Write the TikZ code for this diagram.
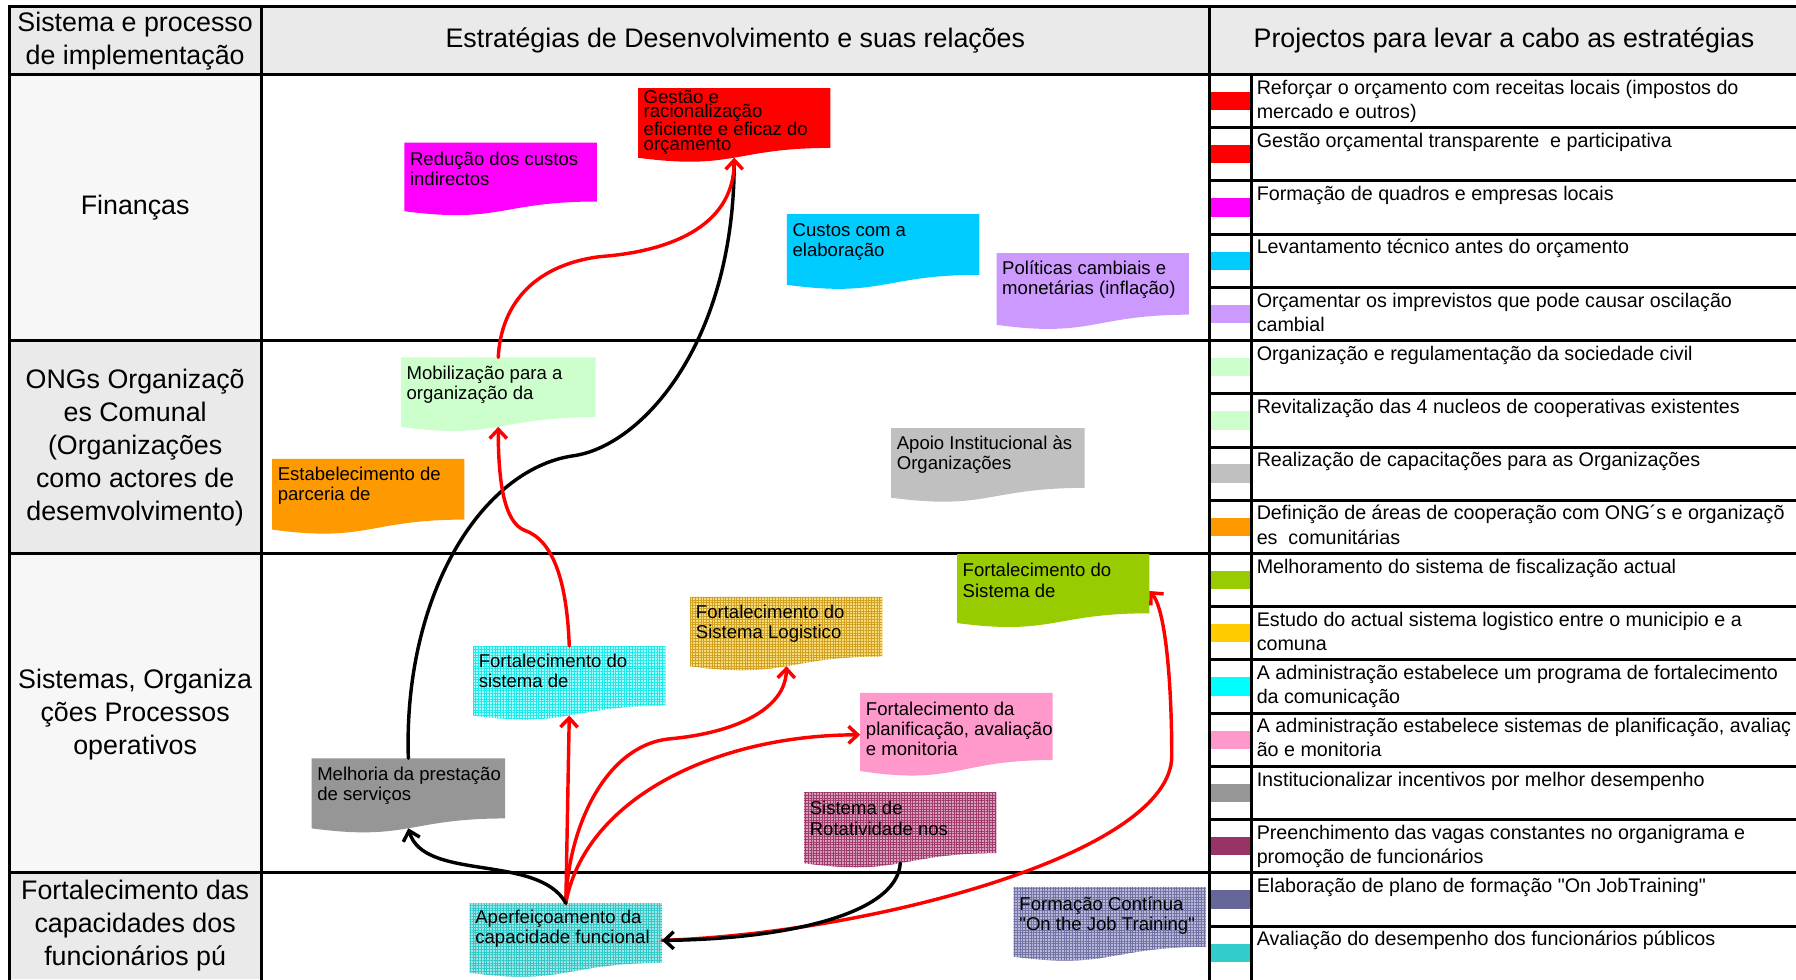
\documentclass[tikz,border=0pt]{standalone}
\usepackage{fontspec}
\setmainfont{Liberation Sans}[Ligatures=TeXOff]
\usetikzlibrary{calc,arrows.meta,patterns.meta}

\definecolor{hdrgray}{HTML}{EAEAEA}
\definecolor{lanelight}{HTML}{F7F7F7}
\definecolor{cGes}{HTML}{FF0000}
\definecolor{cRdc}{HTML}{FF00FF}
\definecolor{cCus}{HTML}{00CCFF}
\definecolor{cPol}{HTML}{CC99FF}
\definecolor{cMob}{HTML}{CCFFCC}
\definecolor{cEst}{HTML}{FF9900}
\definecolor{cApo}{HTML}{C0C0C0}
\definecolor{cFsd}{HTML}{99CC00}
\definecolor{cPla}{HTML}{FF99CC}
\definecolor{cMel}{HTML}{969696}
\definecolor{cLogA}{HTML}{F8DC80}
\definecolor{cLogB}{HTML}{D0A020}
\definecolor{cSisA}{HTML}{A8FFFF}
\definecolor{cSisB}{HTML}{20E8E8}
\definecolor{cRotA}{HTML}{D8A0BC}
\definecolor{cRotB}{HTML}{A03C6C}
\definecolor{cApeA}{HTML}{9EE6E6}
\definecolor{cApeB}{HTML}{33C8C8}
\definecolor{cFrmA}{HTML}{B8B8D8}
\definecolor{cFrmB}{HTML}{7272A4}
\definecolor{cGold}{HTML}{FFCC00}
\definecolor{cCyan}{HTML}{00FFFF}
\definecolor{cPlum}{HTML}{993366}
\definecolor{cSlate}{HTML}{666699}
\definecolor{cTeal}{HTML}{33CCCC}

% document-shaped outline (flat top, wavy bottom) filling the node box
\newcommand\wavedoc[1]{%
  \fill[#1] (path picture bounding box.north west) -- (path picture bounding box.north east)
    -- ($(path picture bounding box.north east)!0.802!(path picture bounding box.south east)$)
    .. controls ($(path picture bounding box.north)!0.802!(path picture bounding box.south)$)
       and ($(path picture bounding box.north)!1.1075!(path picture bounding box.south)$)
    .. ($(path picture bounding box.north west)!0.934!(path picture bounding box.south west)$)
    -- cycle;}

\newcommand\docfont{\fontsize{16.2}{17.5}\selectfont}

% name, x, y, width, height, fill style, first baseline, lines
\newcommand\docnode[8]{%
  \node[docbox, minimum width=#4pt, minimum height=#5pt, #6] (#1) at (#2,#3)
    {\parbox[c][#5pt][t]{\dimexpr#4pt-10pt\relax}{\docfont\rule{0pt}{#7pt}#8}};}

\tikzset{
  docbox/.style={rectangle, inner xsep=5pt, inner ysep=0pt, outer sep=0pt, anchor=north west},
  plaindoc/.style={path picture={\wavedoc{fill=#1}}},
  griddoc/.style 2 args={path picture={\wavedoc{fill=#1}%
      \wavedoc{pattern={Hatch[angle=0,distance=2.4pt,line width=0.55pt]},pattern color=#2}}},
  rule/.style={line width=2.6pt, line cap=rect},
  lanelabel/.style={align=center, font=\fontsize{23.4}{28.8}\selectfont, inner sep=0pt},
  projtext/.style={anchor=north west, inner sep=0pt, align=left, font=\fontsize{17.2}{21}\selectfont},
  redarrow/.style={draw=red, line width=3pt, line cap=round, -{Straight Barb[length=8pt,width=15pt]}},
  blackarrow/.style={draw=black, line width=3pt, line cap=round, -{Straight Barb[length=8pt,width=15pt]}},
  blackline/.style={draw=black, line width=3pt, line cap=round},
}

\newcommand\projrow[3]{%
  \pgfmathsetmacro\rt{65+46.47*(#1-1)}%
  \fill[#2] (1056,\rt+15.2) rectangle (1093,\rt+31.2);
  \node[projtext] (p#1) at (1097,\rt) {\rule{0pt}{17pt}#3};}

\begin{document}
\begin{tikzpicture}[x=1pt,y=-1pt]
\useasboundingbox (0,0) rectangle (1568,855);
\fill[white] (0,0) rectangle (1568,855);

% header band and lane label cells
\fill[hdrgray] (8,6) rectangle (1568,65);
\fill[lanelight] (8,65) rectangle (228,297.35);
\fill[hdrgray] (8,297.35) rectangle (228,483.23);
\fill[lanelight] (8,483.23) rectangle (228,762.05);
\fill[hdrgray] (8,762.05) rectangle (228,855);

% project rows with colour keys
\projrow{1}{cGes}{Reforçar o orçamento com receitas locais (impostos do\\mercado e outros)}
\projrow{2}{cGes}{Gestão orçamental transparente\ \ e participativa}
\projrow{3}{cRdc}{Formação de quadros e empresas locais}
\projrow{4}{cCus}{Levantamento técnico antes do orçamento}
\projrow{5}{cPol}{Orçamentar os imprevistos que pode causar oscilação\\cambial}
\projrow{6}{cMob}{Organização e regulamentação da sociedade civil}
\projrow{7}{cMob}{Revitalização das 4 nucleos de cooperativas existentes}
\projrow{8}{cApo}{Realização de capacitações para as Organizações}
\projrow{9}{cEst}{Definição de áreas de cooperação com ONG´s e organizaçõ\\es\ \ comunitárias}
\projrow{10}{cFsd}{Melhoramento do sistema de fiscalização actual}
\projrow{11}{cGold}{Estudo do actual sistema logistico entre o municipio e a\\comuna}
\projrow{12}{cCyan}{A administração estabelece um programa de fortalecimento\\da comunicação}
\projrow{13}{cPla}{A administração estabelece sistemas de planificação, avaliaç\\ão e monitoria}
\projrow{14}{cMel}{Institucionalizar incentivos por melhor desempenho}
\projrow{15}{cPlum}{Preenchimento das vagas constantes no organigrama e\\promoção de funcionários}
\projrow{16}{cSlate}{Elaboração de plano de formação "On JobTraining"}
\projrow{17}{cTeal}{Avaliação do desempenho dos funcionários públicos}

% table rules
\draw[rule] (8,6) -- (1568,6);
\draw[rule] (8,6) -- (8,855);
\draw[rule] (228,6) -- (228,855);
\draw[rule] (1056,6) -- (1056,855);
\draw[rule] (1093,65) -- (1093,855);
\draw[rule] (8,65) -- (1568,65);
\draw[rule] (8,297.35) -- (1056,297.35);
\draw[rule] (8,483.23) -- (1056,483.23);
\draw[rule] (8,762.05) -- (1056,762.05);
\foreach \k in {1,...,16}{\draw[rule] (1056,65+46.47*\k) -- (1568,65+46.47*\k);}

% headings and lane labels
\node[lanelabel] (hsys) at (118,36) {Sistema e processo\\de implementação};
\node[lanelabel] (hstr) at (642,35) {Estratégias de Desenvolvimento e suas relações};
\node[lanelabel] (hprj) at (1313,35) {Projectos para levar a cabo as estratégias};
\node[lanelabel] (lfin) at (118,181) {Finanças};
\node[lanelabel] (long) at (118,391) {ONGs Organizaçõ\\es Comunal\\(Organizações\\como actores de\\desemvolvimento)};
\node[lanelabel] (lsis) at (118,624) {Sistemas, Organiza\\ções Processos\\operativos};
\node[lanelabel] (lfor) at (118,808) {Fortalecimento das\\capacidades dos\\funcionários pú};

% strategy shapes
\docnode{ges}{557}{77}{168}{65}{plaindoc=cGes}{13}{\fontsize{16.2}{12.4}\selectfont\mbox{Gestão e}\\\mbox{racionalização}\\\mbox{eficiente e eficaz do}\\\mbox{orçamento}}
\docnode{rdc}{353}{124.6}{168}{64}{plaindoc=cRdc}{20}{\mbox{Redução dos custos}\\\mbox{indirectos}}
\docnode{cus}{687}{187}{168}{66}{plaindoc=cCus}{19.6}{\mbox{Custos com a}\\\mbox{elaboração}}
\docnode{pol}{870}{221}{168}{67}{plaindoc=cPol}{18.5}{\mbox{Políticas cambiais e}\\\mbox{monetárias (inflação)}}
\docnode{mob}{350}{312}{170}{65}{plaindoc=cMob}{19}{\mbox{Mobilização para a}\\\mbox{organização da}}
\docnode{est}{237.5}{400.7}{168}{66}{plaindoc=cEst}{19}{\mbox{Estabelecimento de}\\\mbox{parceria de}}
\docnode{apo}{778}{373.8}{169}{65}{plaindoc=cApo}{19}{\mbox{Apoio Institucional às}\\\mbox{Organizações}}
\docnode{fsd}{835.5}{483.7}{168}{64.5}{plaindoc=cFsd}{20}{\mbox{Fortalecimento do}\\\mbox{Sistema de}}
\docnode{log}{602.6}{521}{168}{65}{griddoc={cLogA}{cLogB}}{18.6}{\mbox{Fortalecimento do}\\\mbox{Sistema Logistico}}
\docnode{sis}{413}{564}{168}{65}{griddoc={cSisA}{cSisB}}{18.5}{\mbox{Fortalecimento do}\\\mbox{sistema de}}
\docnode{pla}{751}{605}{168}{73}{plaindoc=cPla}{19.3}{\mbox{Fortalecimento da}\\\mbox{planificação, avaliação}\\\mbox{e monitoria}}
\docnode{rot}{702}{691.5}{168}{66.5}{griddoc={cRotA}{cRotB}}{20}{\mbox{Sistema de}\\\mbox{Rotatividade nos}}
\docnode{mel}{272}{662}{169}{65.5}{plaindoc=cMel}{19}{\mbox{Melhoria da prestação}\\\mbox{de serviços}}
\docnode{ape}{410}{788.5}{168}{65}{griddoc={cApeA}{cApeB}}{18}{\mbox{Aperfeiçoamento da}\\\mbox{capacidade funcional}}
\docnode{frm}{885}{774.5}{168}{65}{griddoc={cFrmA}{cFrmB}}{20}{\mbox{Formação Contínua}\\\mbox{"On the Job Training"}}

% relations between strategies
\draw[blackline, shorten >=4pt] (mel.north) .. controls (352,520) and (420,410) .. (500,398)
  .. controls (560,390) and (641,300) .. ($(ges.north)!0.933!(ges.south)$);
\draw[redarrow] (mob.north) .. controls (437,270) and (462,232) .. (524,224)
  .. controls (580,220) and (641,200) .. ($(ges.north)!0.933!(ges.south)$);
\draw[redarrow] (sis.north) .. controls (495,510) and (484,472) .. (458,463)
  .. controls (440,456) and (435,420) .. ($(mob.north)!0.933!(mob.south)$);
\draw[redarrow] (ape.north) -- ($(sis.north)!0.933!(sis.south)$);
\draw[redarrow] (ape.north) .. controls (496,720) and (530,650) .. (585,645)
  .. controls (640,640) and (686,620) .. ($(log.north)!0.933!(log.south)$);
\draw[redarrow] (ape.north) .. controls (510,700) and (620,642) .. (pla.west);
\draw[redarrow] (ape.east) .. controls (760,815) and (1023,745) .. (1023,660)
  .. controls (1023,600) and (1018,532) .. (fsd.east);
\draw[blackarrow] (ape.north) .. controls (470,745) and (370,770) .. ($(mel.north)!0.933!(mel.south)$);
\draw[blackarrow] ($(rot.north)!0.933!(rot.south)$) .. controls (783,800) and (680,820) .. (ape.east);
\end{tikzpicture}
\end{document}
